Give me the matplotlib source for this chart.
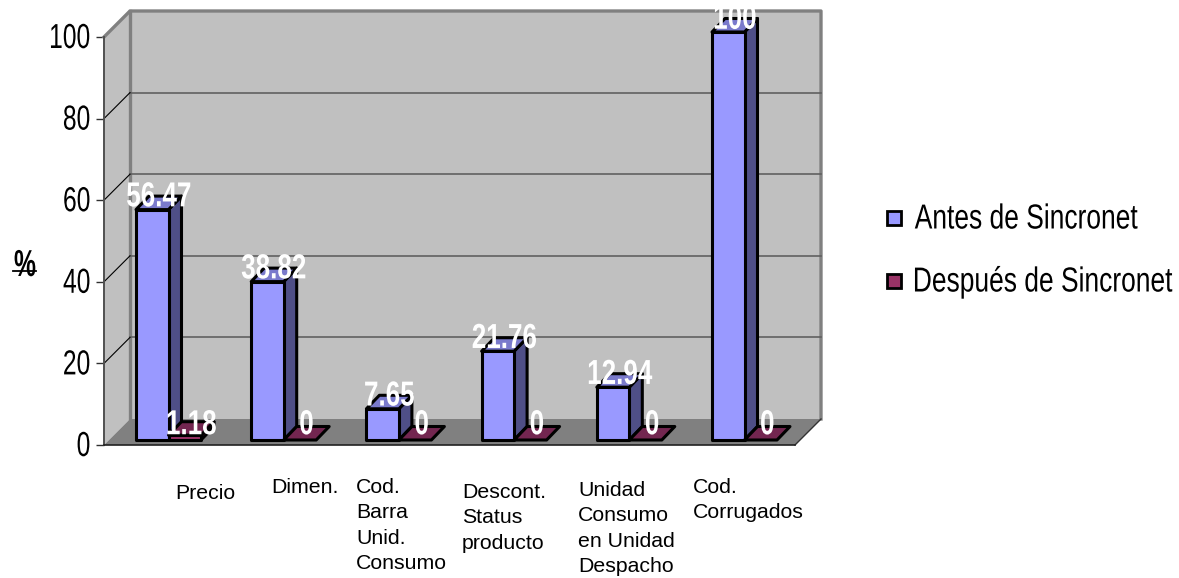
#!/usr/bin/env python3
"""3D-look bar chart, antes / despues de Sincronet."""
import matplotlib
matplotlib.use("Agg")
import matplotlib.pyplot as plt
from matplotlib.lines import Line2D
from matplotlib.patches import Polygon
from matplotlib.patheffects import AbstractPathEffect
from matplotlib.transforms import Affine2D

categories = ["Precio", "Dimen.", "Cod.\nBarra\nUnid.\nConsumo", "Descont.\nStatus\nproducto",
              "Unidad\nConsumo\nen Unidad\nDespacho", "Cod.\nCorrugados"]
antes = [56.47, 38.82, 7.65, 21.76, 12.94, 100]
despues = [1.18, 0, 0, 0, 0, 0]
value_labels_antes = ["56.47", "38.82", "7.65", "21.76", "12.94", "100"]
value_labels_despues = ["1.18", "0", "0", "0", "0", "0"]
yticks = [0, 20, 40, 60, 80, 100]
series_names = ["Antes de Sincronet", "Después de Sincronet"]

W, H = 1179, 578
PX_Y = 4.08      # pixels per %
PX_X = 115.2     # pixels per category
SANS = ["Liberation Sans"]


class Squeeze(AbstractPathEffect):
    # no narrow font installed, so the text gets squeezed when drawn
    def __init__(self, sx, anchor=0.5, up=0):
        super().__init__()
        self.sx, self.anchor, self.up = sx, anchor, up

    def draw_path(self, renderer, gc, tpath, affine, rgbFace=None):
        ext = tpath.get_extents()
        xa = ext.x0 + self.anchor * ext.width
        t = Affine2D().translate(-xa, 0).scale(self.sx, 1).translate(xa, 0)
        renderer.draw_path(gc, tpath, t + affine + Affine2D().translate(0, self.up), rgbFace)


fig = plt.figure(figsize=(W / 100, H / 100), dpi=100)
# axes box = front face of the plot: x 104..795, y 445..37 in pixels
ax = fig.add_axes([104 / W, 1 - 445 / H, (795 - 104) / W, (445 - 37) / H])
ax.patch.set_visible(False)
ax.set_xlim(-(136 - 104) / PX_X, (795 - 136) / PX_X)
ax.set_ylim(0, 100)
x0, x1 = ax.get_xlim()

wx, wy = 26 / PX_X, 26 / PX_Y     # wall depth
dx, dy = 13 / PX_X, 13.5 / PX_Y   # bar depth
base = 5 / PX_Y                   # bars stand a bit behind the front edge
bw = 32.5 / PX_X


def poly(pts, fc, ec="none", lw=0, z=1):
    ax.add_patch(Polygon(pts, closed=True, fc=fc, ec=ec, lw=lw, zorder=z, clip_on=False, joinstyle="round"))


def bar3d(x, v, front, side, top, z):
    b, t = base, base + v
    w = bw
    if v > 0:
        poly([(x + w, b), (x + w + dx, b + dy), (x + w + dx, t + dy), (x + w, t)], side, "k", 2.2, z)
    poly([(x, t), (x + w, t), (x + w + dx, t + dy), (x + dx, t + dy)], top, "k", 2.2, z)
    if v > 0:
        poly([(x, b), (x + w, b), (x + w, t), (x, t)], front, "k", 2.2, z)


# walls and floor
poly([(x0, 0), (x0 + wx, wy), (x0 + wx, 100 + wy), (x0, 100)], "#C0C0C0")
poly([(x0 + wx, wy), (x1 + wx, wy), (x1 + wx, 100 + wy), (x0 + wx, 100 + wy)], "#C0C0C0")
poly([(x0, 0), (x1, 0), (x1 + wx, wy), (x0 + wx, wy)], "#808080")
ax.plot([x0, x0 + wx, x1 + wx, x1 + wx], [100, 100 + wy, 100 + wy, wy], color="#808080", lw=2.4,
        clip_on=False, zorder=2, solid_joinstyle="round")
ax.plot([x0 + wx, x0 + wx], [wy, 100 + wy], color="#808080", lw=2.4, clip_on=False, zorder=2)
ax.plot([x1, x1 + wx], [0, wy], color="#333333", lw=1, clip_on=False, zorder=2)
for v in yticks[1:-1]:
    ax.plot([x0 + wx, x1 + wx], [v + wy, v + wy], color="#606060", lw=1.2, clip_on=False, zorder=2)
    ax.plot([x0, x0 + wx], [v, v + wy], color="k", lw=0.8, clip_on=False, zorder=2)

# bars, back to front
for i, (a, d) in enumerate(zip(antes, despues)):
    bar3d(i, a, "#9999FF", "#4F4F87", "#7A7ACC", 3 + i * 2)
    bar3d(i + bw, d, "#993366", "#4D1A33", "#732650", 3 + i * 2 + 1)

# value labels
squeezed = [Squeeze(0.75)]
for i, a in enumerate(antes):
    ax.text(i + bw / 2 + dx / 2, base + a + dy / 2 + 6 / PX_Y, value_labels_antes[i], color="w", weight="bold",
            family=SANS, fontsize=25, ha="center", va="center", zorder=30, clip_on=False, path_effects=squeezed)
    # second series stays near the floor, label height hardly moves with the value
    ax.text(i + bw * 1.5 + dx / 2, base + dy / 2 + 8.5 / PX_Y, value_labels_despues[i], color="w", weight="bold",
            family=SANS, fontsize=25, ha="center", va="center", zorder=30, clip_on=False, path_effects=squeezed)

# axes
for s in ["top", "right"]:
    ax.spines[s].set_visible(False)
ax.spines["left"].set(color="#505050", lw=1.4, zorder=25)
ax.spines["bottom"].set(color="#202020", lw=1.2, zorder=25)
ax.set_xticks([])
ax.set_yticks(yticks)
ax.tick_params(axis="y", length=6, width=1, color="#303030", pad=3.5)
for lab in ax.get_yticklabels():
    lab.set_fontfamily(SANS)
    lab.set_fontsize(25)
    lab.set_path_effects([Squeeze(0.71, anchor=1, up=2)])

fig.text(25 / W, 1 - 266 / H, "%", family=SANS, weight="bold", fontsize=27, ha="center", va="center",
         path_effects=[Squeeze(0.66)])
fig.add_artist(Line2D([13 / W, 36 / W], [1 - 271 / H, 1 - 271 / H], color="k", lw=1.3))

# category labels, placed one by one like in the original
label_px = [(175, 484), (271, 478), (356, 478), (462, 483), (578, 481), (693, 478)]
for name, (px, py) in zip(categories, label_px):
    fig.text(px / W, 1 - py / H, name, family=SANS, fontsize=15.3, ha="left", va="top", linespacing=1.42)

# legend, right ends
leg_y = [218, 281]
leg_right = [1138, 1173]
leg_c = ["#9999FF", "#993366"]
for name, py, xr, c in zip(series_names, leg_y, leg_right, leg_c):
    fig.patches.append(plt.Rectangle((887 / W, 1 - (py + 7) / H), 14 / W, 14 / H, fc=c, ec="k", lw=2,
                                     transform=fig.transFigure))
    fig.text(xr / W, 1 - (py + 1) / H, name, family=SANS, fontsize=25, ha="right", va="center",
             path_effects=[Squeeze(0.76, anchor=1)])

fig.savefig("out.png", dpi=100)
